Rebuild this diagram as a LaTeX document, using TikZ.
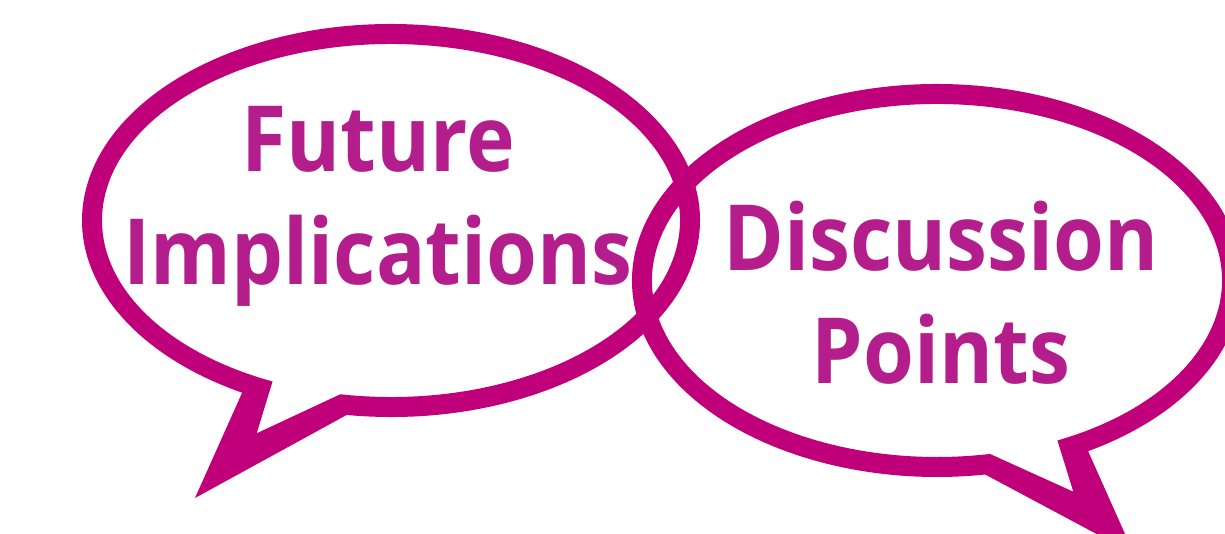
\documentclass[tikz,border=0pt]{standalone}
\usepackage{fontspec}
\setmainfont{Open Sans}[FakeStretch=0.9]
\usepackage{tikz}
\definecolor{calloutmagenta}{RGB}{192,0,122}
\definecolor{textpurple}{RGB}{180,30,140}

\begin{document}
\begin{tikzpicture}[
  x=0.02cm, y=-0.02cm,
  callout/.style={fill=calloutmagenta, even odd rule},
  saying/.style={text=textpurple, font=\bfseries\fontsize{52}{64}\selectfont, align=center, inner sep=0pt, anchor=base}
]
\useasboundingbox (0,0) rectangle (1225,534);
\clip (0,0) rectangle (1225,534);
\coordinate (lc) at (391,220.5);
\coordinate (ltip) at (195,498);
\coordinate (lnotch) at (256.7,433.3);
\coordinate (rc) at (937,280.5);
\coordinate (rtip) at (1134,554);
\coordinate (rnotch) at (1073.3,491.7);
\path[callout]
  (lc) ++(98.25:309 and 196.5) arc[start angle=98.25, end angle=-241.2, x radius=309, y radius=196.5] -- (ltip) -- cycle
  (lc) ++(100.1:289 and 176.5) arc[start angle=100.1, end angle=-245.8, x radius=289, y radius=176.5] -- (lnotch) -- cycle;
\path[callout]
  (rc) ++(60.3:305 and 196.5) arc[start angle=60.3, end angle=-279.1, x radius=305, y radius=196.5] -- (rtip) -- cycle
  (rc) ++(65:285 and 176.5) arc[start angle=65, end angle=-280.7, x radius=285, y radius=176.5] -- (rnotch) -- cycle;
\node[saying] (future) at (378,284) {Future\\Implications};
\node[saying] (discussion) at (941,383.3) {Discussion\\Points};
\end{tikzpicture}
\end{document}
